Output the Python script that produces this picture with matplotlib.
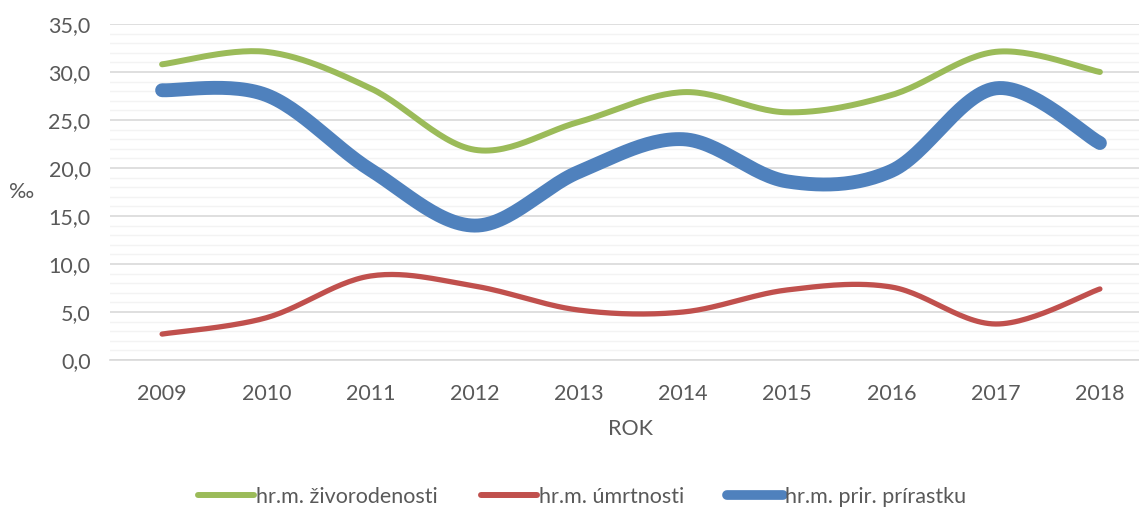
import numpy as np
import matplotlib.pyplot as plt
from matplotlib.ticker import MultipleLocator, FuncFormatter

# údaje
roky = ['2009', '2010', '2011', '2012', '2013', '2014', '2015', '2016', '2017', '2018']
zivorodenost = [30.8, 32.1, 28.3, 21.9, 24.8, 27.9, 25.8, 27.6, 32.1, 30.0]
umrtnost = [2.7, 4.4, 8.75, 7.7, 5.2, 5.0, 7.3, 7.6, 3.75, 7.4]
prirastok = [28.1, 27.6, 19.8, 14.0, 19.6, 23.0, 18.6, 19.7, 28.3, 22.6]

nazvy = ['hr.m. živorodenosti', 'hr.m. úmrtnosti', 'hr.m. prir. prírastku']
farby = ['#9BBB59', '#C0504D', '#4F81BD']
hrubky = [4.3, 3.8, 10.0]

plt.rcParams['font.family'] = ['Lato', 'DejaVu Sans']
sivá = '#595959'
velkost = 15.5


def vyhladit(x, y, n=30):
    # Bezierove krivky ako pri vyhladenej ciare v Exceli
    x = np.asarray(x, float)
    y = np.asarray(y, float)
    bx, by = [], []
    for i in range(len(x) - 1):
        i0 = max(i - 1, 0)
        i3 = min(i + 2, len(x) - 1)
        p0 = np.array([x[i], y[i]])
        p3 = np.array([x[i + 1], y[i + 1]])
        p1 = p0 + (p3 - np.array([x[i0], y[i0]])) / 6
        p2 = p3 - (np.array([x[i3], y[i3]]) - p0) / 6
        t = np.linspace(0, 1, n)[:, None]
        b = (1 - t) ** 3 * p0 + 3 * (1 - t) ** 2 * t * p1 + 3 * (1 - t) * t ** 2 * p2 + t ** 3 * p3
        bx.extend(b[:, 0])
        by.extend(b[:, 1])
    return bx, by


fig = plt.figure(figsize=(11.39, 5.08), dpi=100)
ax = fig.add_axes([110 / 1139, 1 - 360 / 508, 1042 / 1139, 336 / 508])

x = np.arange(len(roky))
for data, nazov, farba, hr in zip([zivorodenost, umrtnost, prirastok], nazvy, farby, hrubky):
    sx, sy = vyhladit(x, data)
    ax.plot(sx, sy, color=farba, lw=hr, solid_capstyle='round', label=nazov, zorder=3)

ax.set_xlim(-0.5, len(roky) - 0.5)
ax.set_ylim(0, 35)
ax.set_xticks(x)
ax.set_xticklabels(roky)
ax.yaxis.set_major_locator(MultipleLocator(5))
ax.yaxis.set_minor_locator(MultipleLocator(1))
ax.yaxis.set_major_formatter(FuncFormatter(lambda v, p: f'{v:.1f}'.replace('.', ',')))
ax.grid(axis='y', which='major', color='#d9d9d9', lw=1.2)
ax.grid(axis='y', which='minor', color='#f3f3f3', lw=1.0)
ax.set_axisbelow(True)
for s in ['top', 'right', 'left']:
    ax.spines[s].set_visible(False)
ax.spines['bottom'].set_color('#d9d9d9')
ax.spines['bottom'].set_linewidth(1.2)
ax.tick_params(axis='both', which='both', length=0, labelsize=velkost, labelcolor=sivá)
ax.tick_params(axis='x', pad=17)
ax.tick_params(axis='y', pad=14)

ax.set_xlabel('ROK', fontsize=velkost, color=sivá, labelpad=11)
fig.text(22 / 1139, 1 - 192 / 508, '‰', fontsize=velkost, color=sivá, ha='center', va='center')

leg = fig.legend(loc='center', bbox_to_anchor=(582 / 1139, 1 - 497 / 508), ncol=3, frameon=False,
                 fontsize=velkost, handlelength=2.6, handletextpad=0.1, columnspacing=2.0)
for t in leg.get_texts():
    t.set_color(sivá)
for h, hr in zip(leg.get_lines(), [4.3, 4.3, 7.0]):
    h.set_linewidth(hr)

fig.savefig('out.png', dpi=100)
